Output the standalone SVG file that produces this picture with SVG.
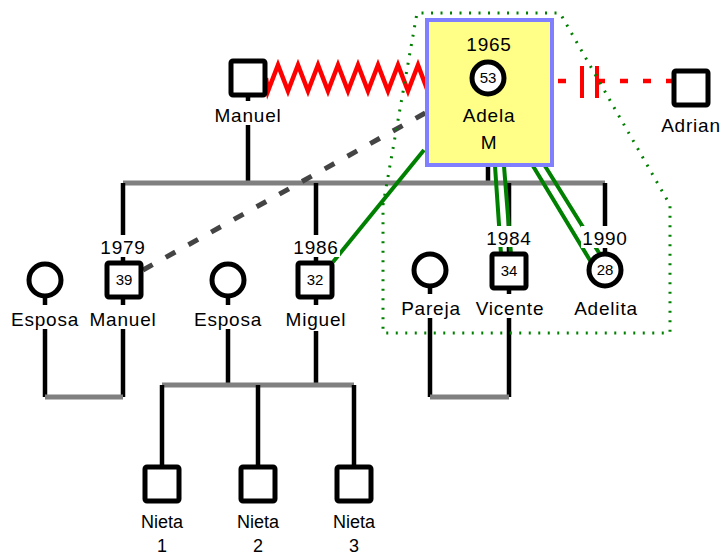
<svg xmlns="http://www.w3.org/2000/svg" width="724" height="557" viewBox="0 0 724 557">
<style>
.sq{fill:#fff;stroke:#000;stroke-width:5}
.ln{stroke:#000;stroke-width:4.5;fill:none}
.gl{stroke:#808080;stroke-width:5;fill:none}
.gr{stroke:#008000;stroke-width:4;fill:none}
.t{font-family:"Liberation Sans",Arial,sans-serif;font-size:19px;letter-spacing:0.8px;text-anchor:middle;fill:#000}
.sm{font-size:15px;letter-spacing:0}
.ni{font-size:18px;letter-spacing:0}
.bg{fill:#fff}
</style>
<rect width="724" height="557" fill="#fff"/>
<g id="connectors">
  <path class="ln" d="M248,95V183M488,166V183"/>
  <path class="gl" d="M123,183H605"/>
  <path class="ln" d="M123,183V263M316,183V263M509,183V254M605,183V254"/>
  <path class="ln" d="M45,298V397M123,298V397"/>
  <path class="gl" d="M45,397H123"/>
  <path class="ln" d="M228,298V385M316,298V385"/>
  <path class="gl" d="M162,385H354"/>
  <path class="ln" d="M162,385V467M258,385V467M354,385V467"/>
  <path class="ln" d="M430,288V397M509,288V397"/>
  <path class="gl" d="M430,397H509"/>
  <path d="M266,78 L268,91 L278,65 L288,91 L298,65 L308,91 L318,65 L328,91 L338,65 L348,91 L358,65 L368,91 L378,65 L388,91 L398,65 L408,91 L418,65 L427,89" fill="none" stroke="#ff0000" stroke-width="4.5" stroke-linejoin="miter"/>
  <path d="M558,81H674" stroke="#ff0000" stroke-width="4.5" stroke-dasharray="8 31 8 15 8 15 8 15 8 15" fill="none"/>
  <path d="M582,66V98M597,66V98" stroke="#ff0000" stroke-width="4" fill="none"/>
  <path d="M143,270L427,112" stroke="#444" stroke-width="5" stroke-dasharray="11 15" fill="none"/>
  <path class="gr" d="M424,150L333,262"/>
  <path class="gr" d="M495,166L501,254M504,166L511,254"/>
  <path class="gr" d="M533,166L591,262M545,166L601,256"/>
  <path d="M383,205L417,13H560L670,205V333H383Z" fill="none" stroke="#008000" stroke-width="3" stroke-dasharray="2 7.5"/>
</g>
<g id="adela">
  <rect x="427" y="20" width="125" height="145" fill="#ffff88" stroke="#7f7fff" stroke-width="4"/>
  <text class="t" x="489" y="51">1965</text>
  <circle cx="488" cy="78" r="16" class="sq"/>
  <text class="t sm" x="488" y="83">53</text>
  <text class="t" x="489" y="122">Adela</text>
  <text class="t" x="489" y="149">M</text>
</g>
<g id="manuel-sr">
  <rect x="231" y="61" width="34" height="34" rx="2" class="sq"/>
  <rect class="bg" x="213" y="101" width="70" height="24"/>
  <text class="t" x="248" y="122">Manuel</text>
</g>
<g id="adrian">
  <rect x="674" y="71" width="34" height="34" rx="2" class="sq"/>
  <text class="t" x="691" y="132">Adrian</text>
</g>
<g id="esposa1">
  <circle cx="45" cy="280" r="16" class="sq"/>
  <rect class="bg" x="10" y="305" width="70" height="24"/>
  <text class="t" x="45" y="326">Esposa</text>
</g>
<g id="manuel-jr">
  <rect class="bg" x="99" y="235" width="48" height="22"/>
  <text class="t" x="123" y="254">1979</text>
  <rect x="107" y="263" width="34" height="34" rx="2" class="sq"/>
  <text class="t sm" x="124" y="285">39</text>
  <rect class="bg" x="89" y="305" width="68" height="24"/>
  <text class="t" x="123" y="326">Manuel</text>
</g>
<g id="esposa2">
  <circle cx="228" cy="280" r="16" class="sq"/>
  <rect class="bg" x="193" y="305" width="70" height="24"/>
  <text class="t" x="228" y="326">Esposa</text>
</g>
<g id="miguel">
  <rect class="bg" x="292" y="235" width="48" height="22"/>
  <text class="t" x="316" y="254">1986</text>
  <rect x="298" y="263" width="34" height="34" rx="2" class="sq"/>
  <text class="t sm" x="315" y="285">32</text>
  <rect class="bg" x="284" y="305" width="64" height="26"/>
  <text class="t" x="316" y="326">Miguel</text>
</g>
<g id="pareja">
  <circle cx="430" cy="270" r="16" class="sq"/>
  <rect class="bg" x="400" y="294" width="62" height="24"/>
  <text class="t" x="431" y="315">Pareja</text>
</g>
<g id="vicente">
  <rect class="bg" x="485" y="226" width="48" height="21"/>
  <text class="t" x="509" y="245">1984</text>
  <rect x="492" y="254" width="34" height="34" rx="2" class="sq"/>
  <text class="t sm" x="509" y="276">34</text>
  <rect class="bg" x="474" y="294" width="72" height="24"/>
  <text class="t" x="510" y="315">Vicente</text>
</g>
<g id="adelita">
  <rect class="bg" x="581" y="226" width="48" height="22"/>
  <text class="t" x="605" y="245">1990</text>
  <circle cx="605" cy="270" r="16" class="sq"/>
  <text class="t sm" x="605" y="275">28</text>
  <text class="t" x="606" y="315">Adelita</text>
</g>
<g id="nieta1">
  <rect x="145" y="467" width="34" height="34" rx="2" class="sq"/>
  <text class="t ni" x="162" y="528">Nieta</text>
  <text class="t ni" x="162" y="552">1</text>
</g>
<g id="nieta2">
  <rect x="241" y="467" width="34" height="34" rx="2" class="sq"/>
  <text class="t ni" x="258" y="528">Nieta</text>
  <text class="t ni" x="258" y="552">2</text>
</g>
<g id="nieta3">
  <rect x="337" y="467" width="34" height="34" rx="2" class="sq"/>
  <text class="t ni" x="354" y="528">Nieta</text>
  <text class="t ni" x="354" y="552">3</text>
</g>
</svg>
